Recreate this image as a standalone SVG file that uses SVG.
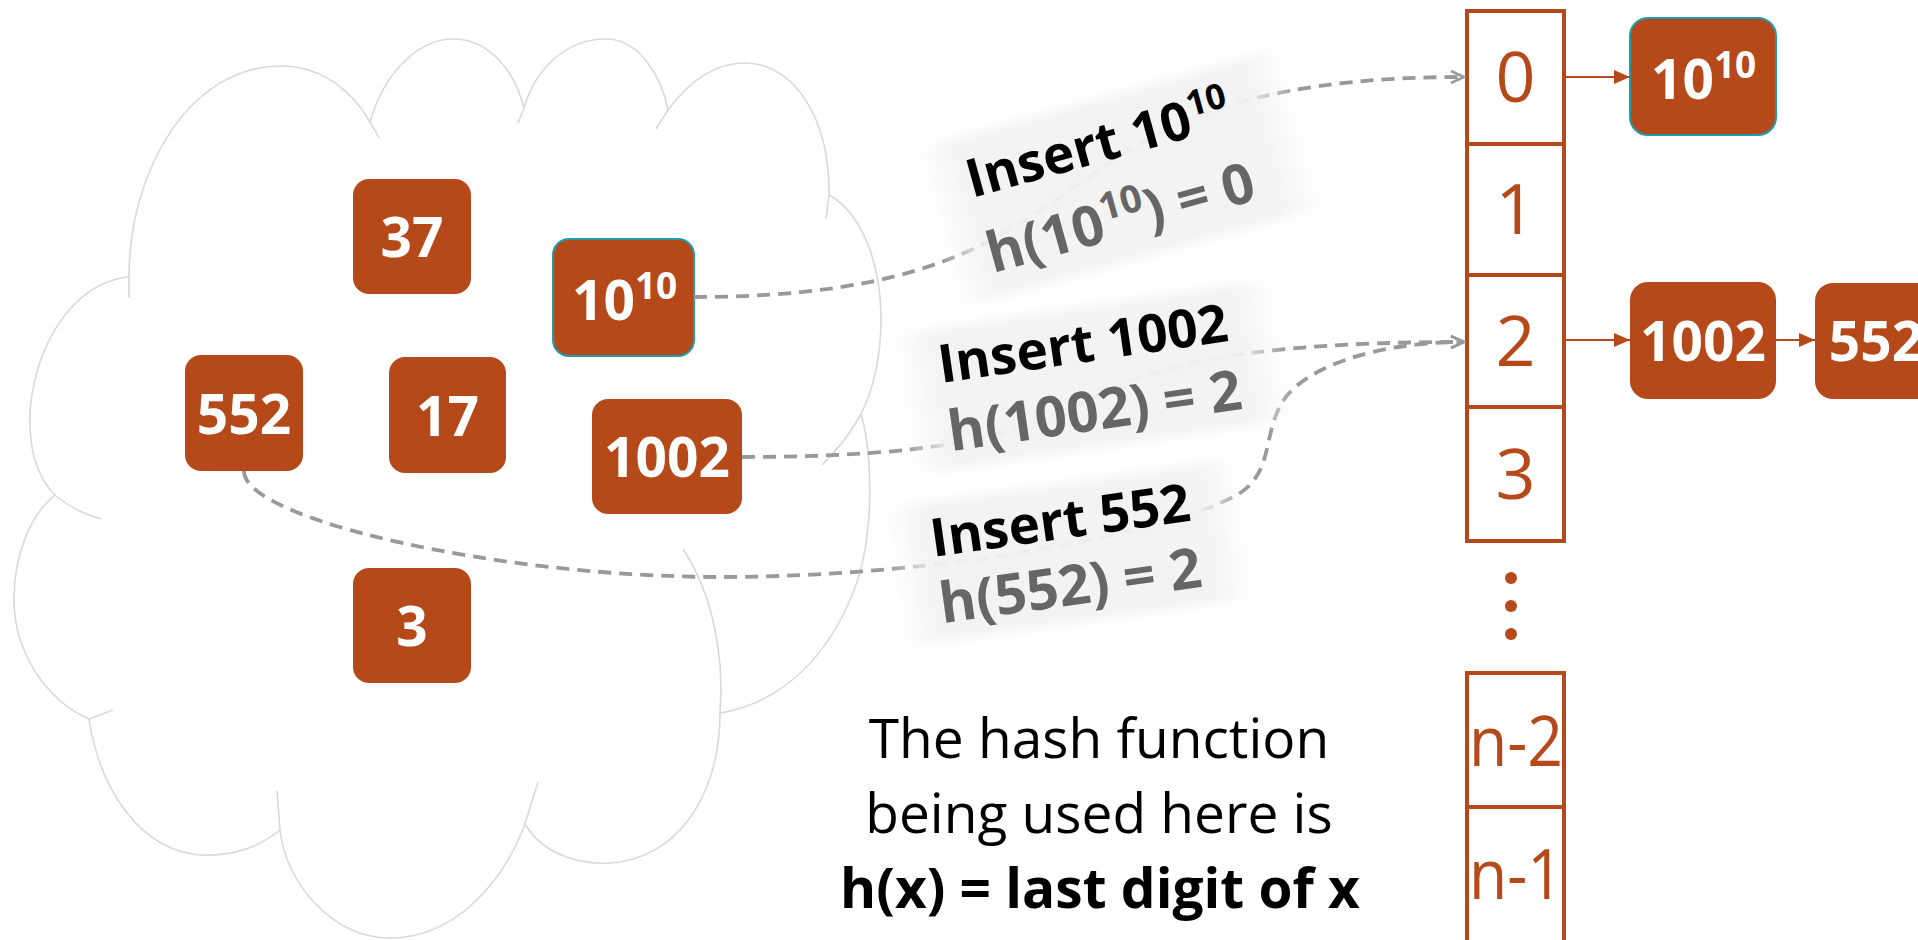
<svg xmlns="http://www.w3.org/2000/svg" width="1918" height="940" viewBox="0 0 1918 940">
<defs>
<style>
.cloud{fill:#fff;stroke:#D9D9D9;stroke-width:1.6}
.tail{fill:none;stroke:#D9D9D9;stroke-width:1.6}
.box{fill:#B5491A}
.teal{stroke:#1F9BAA;stroke-width:2}
.num{font-family:'Open Sans','Liberation Sans',sans-serif;font-weight:bold;font-size:55px;fill:#fff;text-anchor:middle}
.numl{font-family:'Open Sans','Liberation Sans',sans-serif;font-weight:bold;font-size:55px;fill:#fff}
.cell{font-family:'Open Sans','Liberation Sans',sans-serif;font-size:70px;fill:#B5491A;text-anchor:middle}
.tbl{fill:none;stroke:#B5491A;stroke-width:4}
.dash{fill:none;stroke:#999;stroke-width:3.8;stroke-dasharray:13 8}
.solid{fill:none;stroke:#B5491A;stroke-width:2}
.l1{font-family:'Open Sans','Liberation Sans',sans-serif;font-weight:bold;font-size:53px;fill:#000}
.l2{font-family:'Open Sans','Liberation Sans',sans-serif;font-weight:bold;font-size:56px;fill:#666}
.band{fill:url(#bandg);filter:url(#soft)}
.cap{font-family:'Open Sans','Liberation Sans',sans-serif;font-size:55px;fill:#000;text-anchor:middle}
</style>
<linearGradient id="bandg" x1="0" y1="0" x2="1" y2="0">
<stop offset="0" stop-color="#F2F2F2" stop-opacity="0"/>
<stop offset="0.12" stop-color="#F2F2F2" stop-opacity="0.95"/>
<stop offset="0.88" stop-color="#F2F2F2" stop-opacity="0.95"/>
<stop offset="1" stop-color="#F2F2F2" stop-opacity="0"/>
</linearGradient>
<filter id="soft" x="-20%" y="-40%" width="140%" height="180%"><feGaussianBlur stdDeviation="5"/></filter>
<marker id="ga" markerWidth="16" markerHeight="14" refX="14" refY="7" orient="auto" markerUnits="userSpaceOnUse"><path d="M1,1 L14,7 L1,13" fill="none" stroke="#999" stroke-width="2.6"/></marker>
<marker id="oa" markerWidth="17" markerHeight="14" refX="16" refY="7" orient="auto" markerUnits="userSpaceOnUse"><path d="M0,0 L16,7 L0,14 Z" fill="#B5491A"/></marker>
</defs>
<rect width="1918" height="940" fill="#fff"/>

<g id="cloud">
<path class="cloud" d="M 129 277 C 129 170, 190 66, 281 66 C 325 66, 355 95, 370 122 C 385 70, 420 39, 453 39 C 490 39, 515 72, 524 108 C 535 70, 565 39, 606 39 C 640 39, 662 78, 668 110 C 690 80, 715 63, 745 63 C 795 63, 830 120, 829 195 C 865 215, 881 270, 881 318 C 881 360, 873 390, 861 414 C 872 450, 877 540, 850 600 C 820 670, 770 705, 720 713 C 720 780, 690 850, 620 862 C 575 868, 540 850, 525 824 C 500 890, 450 938, 390 938 C 330 938, 285 880, 280 830 C 255 850, 230 856, 200 855 C 140 850, 100 790, 89 719 C 45 700, 14 650, 14 600 C 14 555, 30 515, 55 495 C 0 440, 40 285, 129 277 Z"/>
<path class="tail" d="M 129 277 L 129 298"/>
<path class="tail" d="M 370 122 Q 375 130 379 138"/>
<path class="tail" d="M 524 108 L 518 123"/>
<path class="tail" d="M 668 110 L 656 129"/>
<path class="tail" d="M 829 195 L 826 219"/>
<path class="tail" d="M 861 414 Q 845 443 822 465"/>
<path class="tail" d="M 720 713 C 725 650, 710 590, 683 549"/>
<path class="tail" d="M 525 824 L 538 782"/>
<path class="tail" d="M 280 830 L 277 791"/>
<path class="tail" d="M 89 719 L 113 710"/>
<path class="tail" d="M 55 495 Q 75 512 102 519"/>
</g>

<g id="node-37"><rect class="box" x="353" y="179" width="118" height="115" rx="16"/><text class="num" x="412" y="257">37</text></g>
<g id="node-1e10"><rect class="box teal" x="553" y="239" width="141" height="117" rx="16"/><text class="numl" x="572" y="320">10<tspan font-size="37" dy="-21">10</tspan></text></g>
<g id="node-552"><rect class="box" x="185" y="355" width="118" height="116" rx="16"/><text class="num" x="244" y="434">552</text></g>
<g id="node-17"><rect class="box" x="389" y="357" width="117" height="116" rx="16"/><text class="num" x="447.5" y="436">17</text></g>
<g id="node-1002"><rect class="box" x="592" y="399" width="150" height="115" rx="16"/><text class="num" x="667" y="477">1002</text></g>
<g id="node-3"><rect class="box" x="353" y="568" width="118" height="115" rx="16"/><text class="num" x="412" y="646">3</text></g>

<g id="table">
<rect class="tbl" x="1467" y="11" width="97" height="530"/>
<line class="tbl" x1="1467" y1="144" x2="1564" y2="144"/>
<line class="tbl" x1="1467" y1="275" x2="1564" y2="275"/>
<line class="tbl" x1="1467" y1="407" x2="1564" y2="407"/>
<text class="cell" x="1515.5" y="102">0</text>
<text class="cell" x="1515.5" y="234">1</text>
<text class="cell" x="1515.5" y="366">2</text>
<text class="cell" x="1515.5" y="499">3</text>
<circle cx="1511" cy="578" r="6" fill="#B5491A"/>
<circle cx="1511" cy="606" r="6" fill="#B5491A"/>
<circle cx="1511" cy="634" r="6" fill="#B5491A"/>
<rect class="tbl" x="1467" y="673" width="97" height="290"/>
<line class="tbl" x1="1467" y1="807" x2="1564" y2="807"/>
<text class="cell" x="1516" y="766" textLength="94" lengthAdjust="spacingAndGlyphs">n-2</text>
<text class="cell" x="1516" y="899" textLength="94" lengthAdjust="spacingAndGlyphs">n-1</text>
</g>

<g id="node-r1e10"><rect class="box teal" x="1630" y="18" width="146" height="117" rx="18"/><text class="numl" x="1651" y="99">10<tspan font-size="37" dy="-21">10</tspan></text></g>
<g id="node-r1002"><rect class="box" x="1630" y="282" width="146" height="117" rx="18"/><text class="num" x="1703" y="361">1002</text></g>
<g id="node-r552"><rect class="box" x="1815" y="283" width="122" height="116" rx="18"/><text class="num" x="1876" y="361">552</text></g>

<g id="connectors">
<path class="dash" marker-end="url(#ga)" d="M 694 297 C 1146 297, 1000 77, 1464 77"/>
<path class="dash" marker-end="url(#ga)" d="M 742 457 C 1195 457, 974 342, 1464 342"/>
<path class="dash" marker-end="url(#ga)" d="M 244 471 C 244 520, 500 577, 720 577 C 950 577, 1180 530, 1240 493 C 1275 470, 1262 430, 1285 398 C 1310 365, 1380 342, 1464 342"/>
<line class="solid" marker-end="url(#oa)" x1="1566" y1="77" x2="1630" y2="77"/>
<line class="solid" marker-end="url(#oa)" x1="1566" y1="340" x2="1630" y2="340"/>
<line class="solid" marker-end="url(#oa)" x1="1776" y1="340" x2="1815" y2="340"/>
</g>

<g id="label-1e10" transform="translate(972 198) rotate(-15.5)">
<rect class="band" x="-45" y="-62" width="385" height="165"/>
<text class="l1" x="0" y="0">Insert 10<tspan font-size="35" dy="-20">10</tspan></text>
<text class="l2" x="0" y="78">h(10<tspan font-size="38" dy="-21">10</tspan><tspan dy="21">) = 0</tspan></text>
</g>
<g id="label-1002" transform="translate(941 383) rotate(-8.3)">
<rect class="band" x="-45" y="-55" width="392" height="142"/>
<text class="l1" x="0" y="0">Insert 1002</text>
<text class="l2" x="0" y="69">h(1002) = 2</text>
</g>
<g id="label-552" transform="translate(933 557) rotate(-8)">
<rect class="band" x="-45" y="-55" width="362" height="140"/>
<text class="l1" x="0" y="0">Insert 552</text>
<text class="l2" x="0" y="67">h(552) = 2</text>
</g>

<g id="caption">
<text class="cap" x="1099" y="758" font-size="56">The hash function</text>
<text class="cap" x="1099" y="833">being used here is</text>
<text class="cap" x="1100" y="908" font-weight="bold" font-size="51">h(x) = last digit of x</text>
</g>
</svg>
